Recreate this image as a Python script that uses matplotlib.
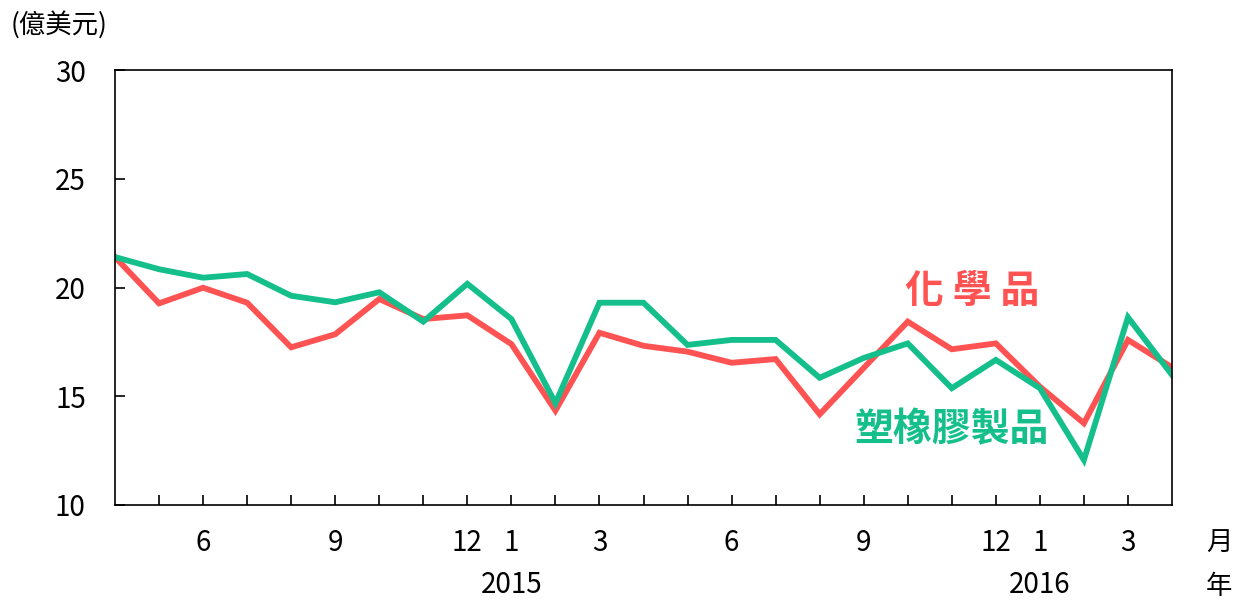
import numpy as np
from matplotlib import pyplot as plt

plt.rcParams['font.family'] = ['Noto Sans CJK TC', 'DejaVu Sans']

# 2014/4 ~ 2016/4 每月資料 (億美元)
meses = [4, 5, 6, 7, 8, 9, 10, 11, 12, 1, 2, 3, 4, 5, 6, 7, 8, 9, 10, 11, 12, 1, 2, 3, 4]
quimicos = [21.4, 19.27, 19.99, 19.3, 17.25, 17.85, 19.47, 18.55, 18.72, 17.4,
            14.34, 17.92, 17.32, 17.05, 16.54, 16.71, 14.17, 16.3, 18.43, 17.16,
            17.43, 15.44, 13.76, 17.59, 16.33]
plasticos = [21.4, 20.84, 20.45, 20.62, 19.62, 19.32, 19.78, 18.43, 20.17, 18.55,
             14.68, 19.3, 19.3, 17.36, 17.59, 17.59, 15.85, 16.76, 17.43, 15.37,
             16.67, 15.37, 12.07, 18.63, 15.98]
meses_etiqueta = ['6', '9', '12', '1', '3', '6', '9', '12', '1', '3']
pos_etiqueta = [2, 5, 8, 9, 11, 14, 17, 20, 21, 23]
anios = ['2015', '2016']
pos_anios = [9, 21]

rojo = '#FF5252'
verde = '#14BF8C'

fig = plt.figure(figsize=(12.36, 6.01), dpi=100)
ax = fig.add_axes([115/1236, 1-505/601, (1172-115)/1236, (505-70)/601])

x = np.arange(len(meses))
ax.plot(x, quimicos, color=rojo, lw=4.2, solid_joinstyle='miter')
ax.plot(x, plasticos, color=verde, lw=4.2, solid_joinstyle='miter')

ax.set_xlim(0, len(meses)-1)
ax.set_ylim(10, 30)
ax.set_yticks([10, 15, 20, 25, 30])
ax.set_xticks(x[1:-1])
ax.set_xticklabels([])
ax.tick_params(axis='both', direction='in', length=7, width=1.2, labelsize=20)
ax.tick_params(axis='y', pad=21)
for s in ax.spines.values():
    s.set_linewidth(1.2)

# etiquetas de meses y años
for p, t in zip(pos_etiqueta, meses_etiqueta):
    ax.text(p, -0.088, t, transform=ax.get_xaxis_transform(), ha='center', va='center', fontsize=20)
for p, t in zip(pos_anios, anios):
    ax.text(p, -0.185, t, transform=ax.get_xaxis_transform(), ha='center', va='center', fontsize=20)
fig.text(1219/1236, 1-543/601, '月', ha='center', va='center', fontsize=19)
fig.text(1219/1236, 1-586/601, '年', ha='center', va='center', fontsize=19)
fig.text(11/1236, 1-25/601, '(億美元)', ha='left', va='center', fontsize=19)

# nombres de las series
ax.text(19.46, 19.8, '化 學 品', color=rojo, fontsize=28, fontweight='bold', ha='center', va='center')
ax.text(19.0, 13.45, '塑橡膠製品', color=verde, fontsize=28, fontweight='bold', ha='center', va='center')

plt.savefig('out.png', dpi=100)
